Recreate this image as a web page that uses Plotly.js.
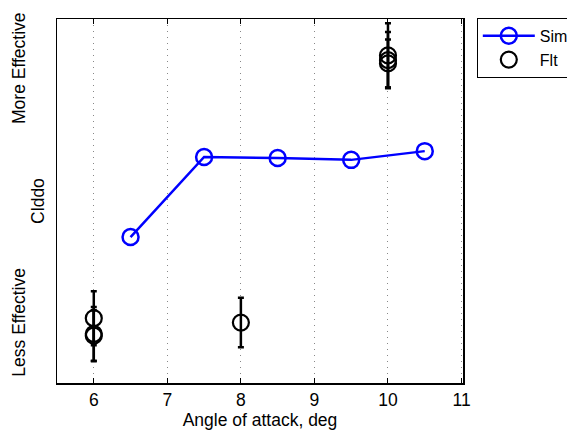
<!DOCTYPE html>
<html>
<head>
<meta charset="utf-8">
<script src="https://cdn.plot.ly/plotly-3.0.1.min.js"></script>
<style>html,body{margin:0;padding:0;background:#fff;}#chart{width:567px;height:432px;}</style>
</head>
<body>
<div id="chart"></div>
<script>
// Simulation
const simAlpha = [6.5, 7.5, 8.5, 9.5, 10.5];
const simCl = [0.401, 0.621, 0.618, 0.613, 0.637];
// Flight test
const fltAlpha = [6, 6, 6, 8, 10, 10, 10];
const fltCl = [0.178, 0.135, 0.130, 0.166, 0.900, 0.887, 0.878];
const fltErr = [0.074, 0.074, 0.070, 0.068, 0.088, 0.077, 0.066];
const xTicks = [6, 7, 8, 9, 10, 11];

const font = "Liberation Sans, Arial, sans-serif";
const fs = 17.5;

const traces = [
  {
    x: simAlpha, y: simCl, name: "Sim", type: "scatter", mode: "lines+markers",
    line: {color: "#0000ff", width: 2.5},
    marker: {symbol: "circle-open", size: 16, color: "#0000ff", line: {width: 2.5, color: "#0000ff"}}
  },
  {
    x: fltAlpha, y: fltCl, name: "Flt", type: "scatter", mode: "markers",
    marker: {symbol: "circle-open", size: 16, color: "#000", line: {width: 2.2, color: "#000"}},
    error_y: {type: "data", array: fltErr, visible: true, color: "#000", thickness: 2.5, width: 3}
  }
];

const layout = {
  width: 567, height: 432,
  paper_bgcolor: "#fff", plot_bgcolor: "#fff",
  margin: {l: 57, r: 104, t: 19, b: 49, autoexpand: false},
  font: {family: font, size: fs, color: "#000"},
  showlegend: true,
  legend: {
    x: 1.034, y: 1.003, xanchor: "left", yanchor: "top",
    bordercolor: "#000", borderwidth: 1, bgcolor: "#fff",
    font: {family: font, size: 16, color: "#000"},
    tracegroupgap: 0, itemwidth: 52
  },
  xaxis: {
    range: [5.5, 11.02], tickvals: xTicks, ticktext: xTicks.map(String),
    showgrid: true, gridcolor: "#888", griddash: "1px,5px", gridwidth: 1,
    zeroline: false, showline: true, linecolor: "#000", linewidth: 1.5, mirror: "ticks",
    ticks: "inside", ticklen: 5, tickcolor: "#000",
    tickfont: {family: font, size: fs},
    title: {text: "Angle of attack, deg", font: {family: font, size: fs}, standoff: 2}
  },
  yaxis: {
    range: [0, 1], showticklabels: false, showgrid: false, zeroline: false,
    showline: true, linecolor: "#000", linewidth: 1.5, mirror: true, ticks: "",
    title: {text: "Clddo", font: {family: font, size: fs}, standoff: 6}
  },
  annotations: [
    {text: "More Effective", xref: "paper", yref: "paper", x: -0.094, y: 0.865,
     xanchor: "center", yanchor: "middle", textangle: -90, showarrow: false,
     font: {family: font, size: fs}},
    {text: "Less Effective", xref: "paper", yref: "paper", x: -0.094, y: 0.168,
     xanchor: "center", yanchor: "middle", textangle: -90, showarrow: false,
     font: {family: font, size: fs}}
  ]
};

Plotly.newPlot("chart", traces, layout, {displayModeBar: false, staticPlot: true});
</script>
</body>
</html>
